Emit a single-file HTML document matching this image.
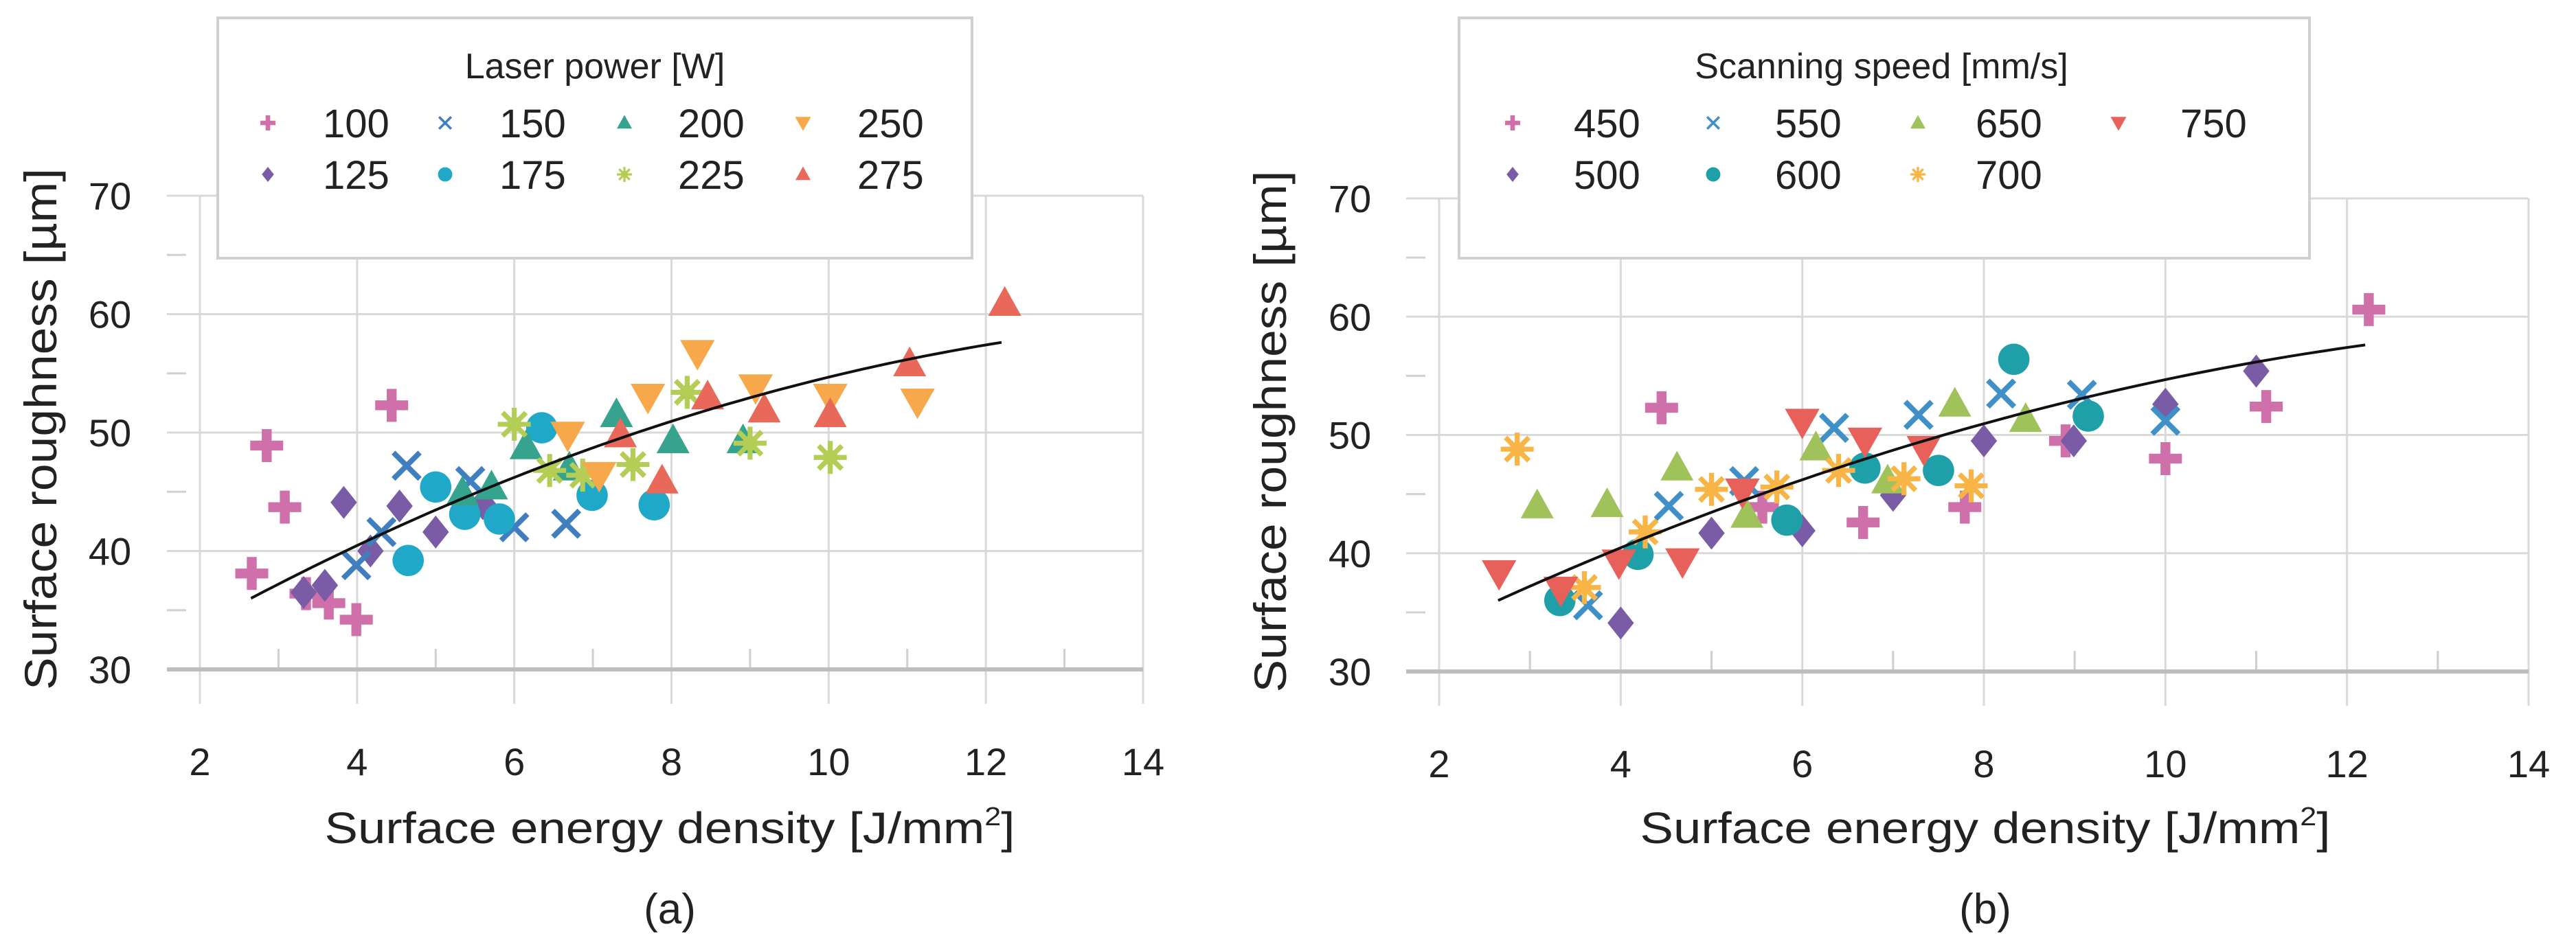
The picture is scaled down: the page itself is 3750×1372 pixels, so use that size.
<!DOCTYPE html>
<html><head><meta charset="utf-8">
<style>
html,body{margin:0;padding:0;background:#fff;}
svg{display:block;font-family:"Liberation Sans",sans-serif;}
</style></head>
<body>
<svg id="fig" width="3750" height="1372" viewBox="0 0 3750 1372" xmlns="http://www.w3.org/2000/svg"></svg>
<script>
// ---------- data (a) ----------
const aSeriesNames = ["100","125","150","175","200","225","250","275"];
const a100x=[2.66,2.85,3.08,4.44,3.35,3.64,3.99]; const a100y=[38.1,48.9,43.7,52.3,36.4,35.6,34.2];
const a125x=[3.83,4.54,5.0,4.17,3.32,3.59,5.6]; const a125y=[44.1,43.8,41.6,40.0,36.5,37.1,44.0];
const a150x=[4.63,4.31,3.99,5.44,6.0,6.66]; const a150y=[47.2,41.6,38.8,45.9,42.0,42.3];
const a175x=[5.0,4.65,5.37,5.81,6.35,6.99,7.78]; const a175y=[45.4,39.2,43.1,42.7,50.4,44.7,43.9];
const a200x=[5.34,5.71,6.15,7.30,8.02,8.91,6.7]; const a200y=[44.9,45.4,48.8,51.5,49.3,49.3,47.0];
const a225x=[6.0,6.45,7.51,8.2,9.0,10.02,6.87]; const a225y=[50.7,46.8,47.3,53.4,49.1,47.9,46.4];
const a250x=[6.68,7.08,7.7,8.33,9.07,10.02,11.13]; const a250y=[49.8,46.4,53.0,56.7,53.8,53.0,52.6];
const a275x=[7.35,7.88,8.46,9.18,10.02,11.03,12.24]; const a275y=[49.8,45.9,53.0,51.9,51.5,55.8,60.9];
// ---------- data (b) ----------
const bSeriesNames = ["450","500","550","600","650","700","750"];
const b450x=[4.45,5.56,6.67,7.79,10.0,11.11,12.24,8.9]; const b450y=[52.3,43.9,42.6,43.9,48.0,52.4,60.6,49.5];
const b500x=[4.0,5.0,6.0,7.0,8.0,8.99,10.0,11.0]; const b500y=[34.1,41.7,41.9,44.9,49.5,49.5,52.6,55.4];
const b550x=[3.64,4.53,6.35,7.28,8.19,9.08,10.0,5.36]; const b550y=[35.6,44.0,50.6,51.7,53.5,53.4,51.2,46.1];
const b600x=[3.33,4.19,5.83,6.69,7.5,8.33,9.15]; const b600y=[36.0,39.9,42.8,47.2,47.0,56.4,51.6];
const b650x=[3.08,3.85,4.62,5.39,6.15,6.94,7.68,8.46]; const b650y=[44.0,44.1,47.2,43.2,48.9,46.1,52.6,51.3];
const b700x=[2.86,3.6,4.27,5.0,5.72,6.4,7.12,7.86]; const b700y=[48.8,37.1,41.8,45.4,45.6,47.0,46.3,45.7];
const b750x=[2.66,3.34,3.98,4.68,5.34,6.0,6.69,7.34]; const b750y=[38.3,36.9,39.2,39.3,45.2,51.1,49.5,48.8];
// trendline quadratic coefficients and x-range
const trendCoef=[25.92,4.141,-0.1265];
const trendRange=[2.65,12.2];
const xTicks=[2,4,6,8,10,12,14];
const yTicks=[30,40,50,60,70];

const NS="http://www.w3.org/2000/svg";
const svg=document.getElementById('fig');
function el(tag,attrs,parent){const e=document.createElementNS(NS,tag);for(const k in attrs)e.setAttribute(k,attrs[k]);(parent||svg).appendChild(e);return e;}

function marker(g,shape,color,cx,cy,s){
  let e;
  if(shape==='plus'){
    e=el('path',{d:`M${cx-s*0.3},${cy-s}h${s*0.6}v${s*0.7}h${s*0.7}v${s*0.6}h${-s*0.7}v${s*0.7}h${-s*0.6}v${-s*0.7}h${-s*0.7}v${-s*0.6}h${s*0.7}z`,fill:color},g);
  }else if(shape==='diamond'){
    e=el('path',{d:`M${cx},${cy-s}L${cx+s*0.8},${cy}L${cx},${cy+s}L${cx-s*0.8},${cy}Z`,fill:color},g);
  }else if(shape==='x'){
    e=el('path',{d:`M${cx-s*0.8},${cy-s*0.8}L${cx+s*0.8},${cy+s*0.8}M${cx+s*0.8},${cy-s*0.8}L${cx-s*0.8},${cy+s*0.8}`,stroke:color,'stroke-width':s*0.32,fill:'none'},g);
  }else if(shape==='circle'){
    e=el('circle',{cx:cx,cy:cy,r:s*0.95,fill:color},g);
  }else if(shape==='tri'){
    e=el('path',{d:`M${cx},${cy-s*1.05}L${cx+s},${cy+s*0.75}L${cx-s},${cy+s*0.75}Z`,fill:color},g);
  }else if(shape==='tridown'){
    e=el('path',{d:`M${cx},${cy+s*1.05}L${cx+s*1.05},${cy-s*0.8}L${cx-s*1.05},${cy-s*0.8}Z`,fill:color},g);
  }else if(shape==='star'){
    let d='';for(let i=0;i<4;i++){const a=i*Math.PI/4;d+=`M${cx-Math.cos(a)*s},${cy-Math.sin(a)*s}L${cx+Math.cos(a)*s},${cy+Math.sin(a)*s}`;}
    e=el('path',{d:d,stroke:color,'stroke-width':s*0.3,fill:'none'},g);
    el('circle',{cx:cx,cy:cy,r:s*0.45,fill:color},g);
  }
  return e;
}

function drawPanel(cfg){
  const X=v=>cfg.x0+(v-2)/12*(cfg.x1-cfg.x0);
  const Y=v=>cfg.y30+(v-30)/40*(cfg.y70-cfg.y30);
  const g=el('g',{});
  
  
  xTicks.forEach(t=>{
    const l=el('line',{x1:X(t),x2:X(t),y1:cfg.y70,y2:cfg.y30+50,stroke:'#d9d9d9','stroke-width':3},g);
    
    
    const tx=el('text',{x:X(t),y:cfg.y30+154,'font-size':56,'text-anchor':'middle',fill:'#222'},g);
    tx.textContent=t;
    
    
  });
  for(let t=3;t<14;t+=2){
    const m=el('line',{x1:X(t),x2:X(t),y1:cfg.y30-30,y2:cfg.y30,stroke:'#cfcfcf','stroke-width':3},g);
    
    
  }
  yTicks.forEach(t=>{
    const l=el('line',{x1:cfg.x0-48,x2:cfg.x1,y1:Y(t),y2:Y(t),stroke:t===30?'#bdbdbd':'#d9d9d9','stroke-width':t===30?6:3},g);
    
    
    const tx=el('text',{x:cfg.ylabX,y:Y(t)+20,'font-size':56,'text-anchor':'middle',fill:'#222'},g);
    tx.textContent=t;
    
    
  });
  [35,45,55,65].forEach(t=>{
    const m=el('line',{x1:cfg.x0-48,x2:cfg.x0-20,y1:Y(t),y2:Y(t),stroke:'#d0d0d0','stroke-width':3},g);
    
    
  });
  cfg.series.forEach(s=>{
    const sg=el('g',{},g);
    
    
    s.xs.forEach((xv,i)=>{
      const m=marker(sg,s.shape,s.color,X(xv),Y(s.ys[i]),24);
      
      
    });
  });
  let d='';
  for(let i=0;i<=60;i++){
    const xv=trendRange[0]+(trendRange[1]-trendRange[0])*i/60;
    const yv=trendCoef[0]+trendCoef[1]*xv+trendCoef[2]*xv*xv;
    d+=(i?'L':'M')+X(xv).toFixed(1)+','+Y(yv).toFixed(1);
  }
  const tl=el('path',{d:d,stroke:'#111','stroke-width':4,fill:'none'},g);
  
  
  const lg=el('g',{},g);
  
  
  el('rect',{x:cfg.leg[0],y:26,width:cfg.leg[1]-cfg.leg[0],height:350,fill:'#fff',stroke:'#d0d0d0','stroke-width':4},lg);
  const lt=el('text',{x:cfg.legTitleX,y:114,'font-size':52,'text-anchor':'middle',fill:'#222'},lg);
  lt.textContent=cfg.legTitle;
  
  
  cfg.series.forEach((s,i)=>{
    const col=Math.floor(i/2),row=i%2;
    const ly=row?254:179;
    const le=el('g',{},lg);
    
    
    marker(le,s.shape,s.color,cfg.legMX[col],ly,11);
    const t=el('text',{x:cfg.legTX[col],y:ly+21,'font-size':58,fill:'#222'},le);
    t.textContent=s.label;
  });
  const xt=el('text',{x:cfg.xTitleX,y:1228,'font-size':64,'text-anchor':'middle',fill:'#222',textLength:1005,lengthAdjust:'spacingAndGlyphs'},g);
  xt.innerHTML='Surface energy density [J/mm<tspan font-size="38" dy="-26">2</tspan><tspan dy="26">]</tspan>';
  
  
  const yt=el('text',{x:0,y:0,'font-size':66,'text-anchor':'middle',fill:'#222',textLength:760,lengthAdjust:'spacingAndGlyphs',transform:`translate(${cfg.yTitleX},${(cfg.y30+cfg.y70)/2-5}) rotate(-90)`},g);
  yt.textContent='Surface roughness [µm]';
  
  
  const pl=el('text',{x:cfg.xTitleX,y:1345,'font-size':62,'text-anchor':'middle',fill:'#222'},g);
  pl.textContent=cfg.panel;
  
  
}

drawPanel({name:'chart-a',x0:291,x1:1664,y30:975,y70:285,ylabX:160,yTitleX:82,xTitleX:975,panel:'(a)',
  leg:[317,1415],legTitleX:866,legTitle:'Laser power [W]',legMX:[390,648,909,1169],legTX:[470,727,987,1248],
  series:[
   {label:'100',shape:'plus',color:'#d070aa',xs:a100x,ys:a100y},
   {label:'125',shape:'diamond',color:'#7a5ba5',xs:a125x,ys:a125y},
   {label:'150',shape:'x',color:'#3f7fc0',xs:a150x,ys:a150y},
   {label:'175',shape:'circle',color:'#20a8c8',xs:a175x,ys:a175y},
   {label:'200',shape:'tri',color:'#35a38d',xs:a200x,ys:a200y},
   {label:'225',shape:'star',color:'#b3cd55',xs:a225x,ys:a225y},
   {label:'250',shape:'tridown',color:'#f7a84a',xs:a250x,ys:a250y},
   {label:'275',shape:'tri',color:'#e8685a',xs:a275x,ys:a275y}]});
drawPanel({name:'chart-b',x0:2095,x1:3681,y30:978,y70:289,ylabX:1965,yTitleX:1872,xTitleX:2890,panel:'(b)',
  leg:[2124,3362],legTitleX:2739,legTitle:'Scanning speed [mm/s]',legMX:[2202,2494,2792,3084],legTX:[2291,2584,2876,3174],
  series:[
   {label:'450',shape:'plus',color:'#d070aa',xs:b450x,ys:b450y},
   {label:'500',shape:'diamond',color:'#7a5ba5',xs:b500x,ys:b500y},
   {label:'550',shape:'x',color:'#3f8fc8',xs:b550x,ys:b550y},
   {label:'600',shape:'circle',color:'#1f9fa8',xs:b600x,ys:b600y},
   {label:'650',shape:'tri',color:'#9fc25a',xs:b650x,ys:b650y},
   {label:'700',shape:'star',color:'#f8b445',xs:b700x,ys:b700y},
   {label:'750',shape:'tridown',color:'#e8605a',xs:b750x,ys:b750y}]});
</script>
</body></html>
